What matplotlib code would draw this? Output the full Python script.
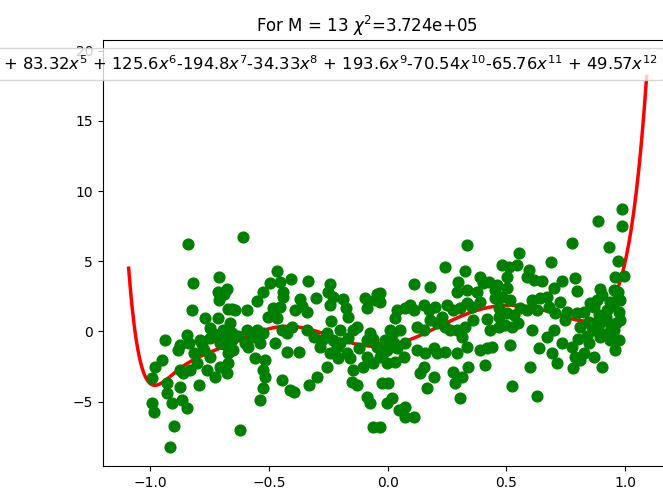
import matplotlib
matplotlib.use("Agg")
import matplotlib.pyplot as plt
import numpy as np

# fitted polynomial coefficients, x^0 .. x^12 (low orders estimated, hidden in legend)
coeffs = [-1.0, 2.43, 24.27, -14.44, -92.92, 83.32, 125.6, -194.8,
          -34.33, 193.6, -70.54, -65.76, 49.57]
chi2_label = "3.724e+05"
M = 13
x_range = (-1.09, 1.09)

# measured points
xs = [-0.839, -0.607, -0.820, -0.708, -0.677, -0.688, -0.711, -0.712, -0.825, -0.656,
      -0.670, -0.642, -0.768, -0.747, -0.712, -0.663, -0.691, -0.656, -0.593, -0.551,
      -0.523, -0.495, -0.467, -0.453, -0.408, -0.441, -0.439, -0.453, -0.481, -0.502,
      -0.467, -0.336, -0.301, -0.368, -0.361, -0.389, -0.340, -0.242, -0.249, -0.228,
      -0.242, -0.238, -0.186, -0.175, -0.165, -0.095, -0.046, -0.088, -0.053, 0.040,
      0.032, -0.937, -0.874, -0.881, -0.843, -0.834, -0.951, -0.979, -0.993, -0.930,
      -0.930, -0.909, -0.874, -0.867, -0.846, -0.993, -0.982, -0.899, -0.916, -0.621,
      -0.817, -0.789, -0.803, -0.832, -0.796, -0.860, -0.874, -0.747, -0.761, -0.726,
      -0.705, -0.677, -0.670, -0.705, -0.719, -0.684, -0.656, -0.649, -0.670, -0.747,
      -0.775, -0.593, -0.586, -0.565, -0.551, -0.523, -0.537, -0.558, -0.516, -0.523,
      -0.516, -0.523, -0.537, -0.474, -0.446, -0.425, -0.403, -0.446, -0.410, -0.396,
      -0.425, -0.375, -0.340, -0.312, -0.284, -0.277, -0.256, -0.228, -0.242, -0.214,
      -0.200, -0.298, -0.333, -0.256, -0.207, -0.165, -0.144, -0.130, -0.172, -0.144,
      -0.151, -0.130, -0.102, -0.088, -0.088, -0.074, -0.060, -0.046, -0.018, 0.003,
      0.024, -0.004, 0.032, -0.088, -0.074, -0.004, 0.017, -0.025, 0.003, -0.060,
      -0.032, 0.046,
      0.333, 0.775, 0.930, 0.551, 0.688, 0.242, 0.969, 0.326, 0.298, 0.291,
      0.333, 0.387, 0.403, 0.425, 0.460, 0.481, 0.509, 0.544, 0.502, 0.593,
      0.586, 0.614, 0.649, 0.733, 0.698, 0.789, 0.796, 0.109, 0.179, -0.032,
      -0.032, 0.895, 0.958, 0.996, 0.951, 0.979, 0.937, 0.972, 0.979, 0.951,
      0.972, 0.958, 0.881, 0.867, 0.825, 0.796, 0.754, 0.747, 0.810, 0.846,
      0.888, 0.916, 0.923, 0.375, 0.389, 0.354, 0.333, 0.305, 0.277, 0.249,
      0.200, 0.172, 0.151, 0.109, 0.074, 0.095, 0.053, 0.011, -0.011, 0.025,
      0.074, 0.039, -0.004, -0.032, 0.067, 0.123, 0.151, 0.179, 0.207, 0.228,
      0.242, 0.263, 0.291, 0.326, 0.312, 0.333, 0.291, 0.242, 0.207, 0.193,
      0.158, 0.123, 0.151, 0.137, 0.193, 0.165, 0.389, 0.418, 0.439, 0.410,
      0.340, 0.312, 0.277, 0.284, 0.305, 0.432, 0.467, 0.495, 0.523, 0.502,
      0.530, 0.467, 0.453, 0.481, 0.516, 0.453, 0.502, 0.558, 0.586, 0.628,
      0.607, 0.642, 0.670, 0.677, 0.726, 0.705, 0.607, 0.635, 0.516, 0.600,
      0.523, 0.628, 0.691, 0.712, 0.670, 0.698, 0.733, 0.775, 0.789, 0.782,
      0.810, 0.825, 0.846, 0.867, 0.902, 0.867, 0.895, 0.937, 0.074, 0.074,
      0.109, 0.986, 0.987, 0.886,
      0.860, 0.890, 0.910, 0.940, 0.960, 0.840, 0.800, 0.920, 0.950, 0.970,
      0.900, 0.850, -0.730, -0.690, -0.630, -0.600, -0.780, -0.200, -0.120, -0.060,
      -0.160, 0.360, 0.420, 0.470, 0.550]
ys = [6.23, 6.71, 3.43, 3.91, 3.00, 2.67, 2.24, 2.84, 1.53, 1.60,
      1.60, 1.53, 0.94, 0.23, 0.94, 0.58, 0.11, -0.13, 1.53, 2.20,
      2.84, 3.43, 4.33, 3.55, 3.74, 2.84, 2.48, 1.77, 1.65, 1.01,
      0.94, 3.60, 2.41, 2.29, 1.82, 1.53, 1.41, 3.36, 2.84, 2.48,
      1.89, 0.77, 2.29, 1.65, 1.06, 2.36, 2.67, 1.65, 2.24, 1.53,
      0.94, -0.61, -0.96, -1.32, -0.25, -0.84, -2.03, -2.50, -3.34, -3.69,
      -4.40, -5.12, -3.93, -4.88, -5.47, -5.12, -5.71, -6.73, -8.20, -7.02,
      -1.56, -0.61, -2.27, -2.74, -3.81, -2.98, -2.74, -1.79, -2.74, -3.22,
      -2.50, -2.98, -2.27, -0.84, -0.37, -0.25, -0.61, -1.32, -1.56, -0.49,
      -1.32, 0.11, -1.08, -0.37, 0.11, -0.13, -0.84, -1.91, -2.03, -2.74,
      -3.22, -4.05, -4.88, -0.84, 0.11, -0.13, 0.34, -3.45, -4.17, -4.28,
      -1.44, -1.44, 0.11, -0.37, -1.08, -0.61, -0.13, -0.61, -1.56, -1.08,
      0.11, -3.22, -3.81, -2.50, -1.91, -0.49, 0.11, 0.34, -1.56, -2.74,
      -3.57, -3.81, -2.50, -1.79, -0.61, -0.13, -2.27, -1.08, -1.56, -1.08,
      -0.13, -2.27, -2.15, -4.64, -5.12, -5.12, -4.76, -3.69, -3.69, -6.78,
      -6.78, -5.59,
      6.16, 6.28, 6.04, 5.61, 4.97, 4.57, 5.05, 4.33, 3.55, 2.84,
      2.96, 3.91, 3.43, 3.55, 3.31, 4.74, 4.62, 4.74, 3.91, 4.38,
      3.91, 3.67, 3.60, 3.62, 3.07, 3.83, 2.91, 3.38, 3.15, 2.72,
      2.13, 3.00, 3.91, 3.98, 2.96, 2.24, 2.13, 1.41, 0.82, 0.11,
      -0.61, -1.32, 2.24, 1.77, 1.41, 1.29, 1.41, 0.82, 0.34, 0.70,
      1.18, 0.82, 1.53, 2.84, 2.13, 1.77, 2.01, 1.65, 1.53, 1.89,
      1.77, 1.53, 1.89, 1.53, 1.65, 1.89, 0.11, 0.11, -0.61, -0.84,
      -0.84, -1.20, -1.32, -1.79, -1.79, 0.34, 0.11, 0.82, 0.58, 1.06,
      0.34, 0.11, 0.11, 0.34, -0.37, -1.08, -1.56, -1.44, -1.56, -1.20,
      -1.56, -1.32, -2.50, -2.98, -3.22, -4.05, -1.32, -1.20, -1.08, -2.39,
      -2.50, -3.22, -2.86, -3.69, -4.76, 0.11, 0.34, 0.46, 0.34, 1.29,
      1.18, 1.65, 2.36, 2.48, 2.24, 2.96, 3.07, 1.65, 1.53, 1.53,
      2.24, 2.36, 2.48, 1.77, 2.13, 1.29, 0.11, -1.20, -0.96, -2.50,
      -3.88, -4.57, -1.56, -2.27, -0.37, 0.11, -0.84, -1.08, -1.79, -2.62,
      -2.03, -1.56, -0.84, -1.79, -2.50, 0.11, -0.37, -0.61, -5.35, -6.07,
      -6.07, 8.72, 7.50, 7.87,
      0.30, 0.50, -0.20, 0.30, 0.60, -0.30, -0.50, 1.00, 1.90, 2.80,
      2.60, 2.00, -0.20, -0.90, -0.30, -0.80, -0.90, -0.80, -1.20, -0.50,
      -1.90, 0.80, 0.90, 1.00, 0.60]

fig = plt.figure(figsize=(6.63, 4.96), dpi=100)
ax = fig.add_axes([0.155, 0.0605, 0.8594, 0.8583])

# polynomial curve from the coefficients
xc = np.linspace(x_range[0], x_range[1], 400)
yc = np.polyval(coeffs[::-1], xc)

label = ""
for i, c in enumerate(coeffs):
    term = f"{c:.4g}$x^{{{i}}}$"
    label += (" + " + term) if c >= 0 else term

ax.plot(xc, yc, color="red", lw=2.5, label=label)
ax.scatter(xs, ys, color="green", s=60, zorder=3)

ax.set_xlim(-1.199, 1.199)
ax.set_ylim(-9.58, 20.74)
ax.set_xticks([-1.0, -0.5, 0.0, 0.5, 1.0])
ax.set_yticks([-5, 0, 5, 10, 15, 20])
ax.set_title(f"For M = {M} $\\chi^2$={chi2_label}", x=0.463)
ax.legend(loc="upper right", bbox_to_anchor=(664 / 663, 448 / 496),
          bbox_transform=fig.transFigure, borderaxespad=0, fontsize=11.8)

fig.savefig("out.png", dpi=100)
